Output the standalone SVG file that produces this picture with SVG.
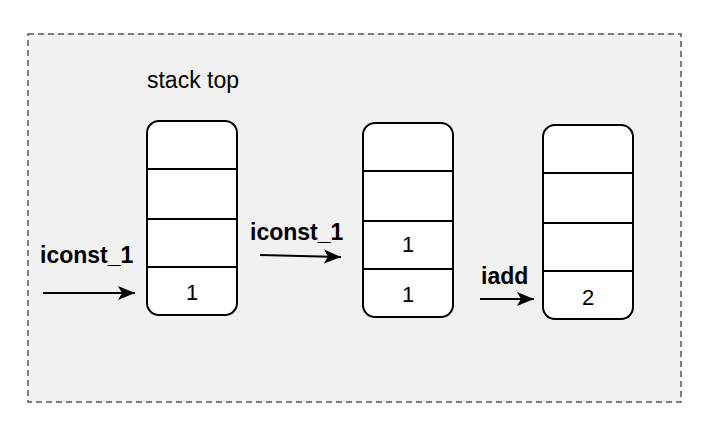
<svg xmlns="http://www.w3.org/2000/svg" width="716" height="432" viewBox="0 0 716 432">
<defs>
<marker id="ah" markerWidth="18" markerHeight="16" refX="17" refY="8" orient="auto" markerUnits="userSpaceOnUse" viewBox="0 0 18 16">
<path d="M0,1 L17,8 L0,15 L4,8 Z" fill="#000"/>
</marker>
</defs>
<style>
.frame{fill:#f1f1f1;stroke:#555;stroke-width:1.5;stroke-dasharray:6 4}
.stack{fill:#fff;stroke:#000;stroke-width:2}
.div{stroke:#000;stroke-width:2}
.num{font-family:"Liberation Sans",Arial,sans-serif;font-size:22px;text-anchor:middle;fill:#000}
.lbl{font-family:"Liberation Sans",Arial,sans-serif;font-size:23px;font-weight:bold;fill:#000}
.title{font-family:"Liberation Sans",Arial,sans-serif;font-size:23px;fill:#000;text-anchor:middle}
.arr{stroke:#000;stroke-width:2;fill:none;marker-end:url(#ah)}
</style>
<rect class="frame" x="28" y="34" width="653" height="368"/>
<text class="title" x="193" y="88">stack top</text>
<g id="stack1">
<rect class="stack" x="147" y="121" width="90" height="194" rx="12"/>
<line class="div" x1="147" y1="169" x2="237" y2="169"/>
<line class="div" x1="147" y1="219" x2="237" y2="219"/>
<line class="div" x1="147" y1="267" x2="237" y2="267"/>
<text class="num" x="192" y="300">1</text>
</g>
<g id="stack2">
<rect class="stack" x="363" y="123" width="90" height="194" rx="12"/>
<line class="div" x1="363" y1="171" x2="453" y2="171"/>
<line class="div" x1="363" y1="221" x2="453" y2="221"/>
<line class="div" x1="363" y1="269" x2="453" y2="269"/>
<text class="num" x="408" y="252">1</text>
<text class="num" x="408" y="302">1</text>
</g>
<g id="stack3">
<rect class="stack" x="543" y="125" width="90" height="194" rx="12"/>
<line class="div" x1="543" y1="173" x2="633" y2="173"/>
<line class="div" x1="543" y1="223" x2="633" y2="223"/>
<line class="div" x1="543" y1="271" x2="633" y2="271"/>
<text class="num" x="588" y="305">2</text>
</g>
<g id="connectors">
<line class="arr" x1="43" y1="293" x2="135" y2="293"/>
<text class="lbl" x="40" y="263">iconst_1</text>
<line class="arr" x1="260" y1="255" x2="341" y2="257"/>
<text class="lbl" x="250" y="240">iconst_1</text>
<line class="arr" x1="480" y1="299" x2="534" y2="299"/>
<text class="lbl" x="481" y="284">iadd</text>
</g>
</svg>
